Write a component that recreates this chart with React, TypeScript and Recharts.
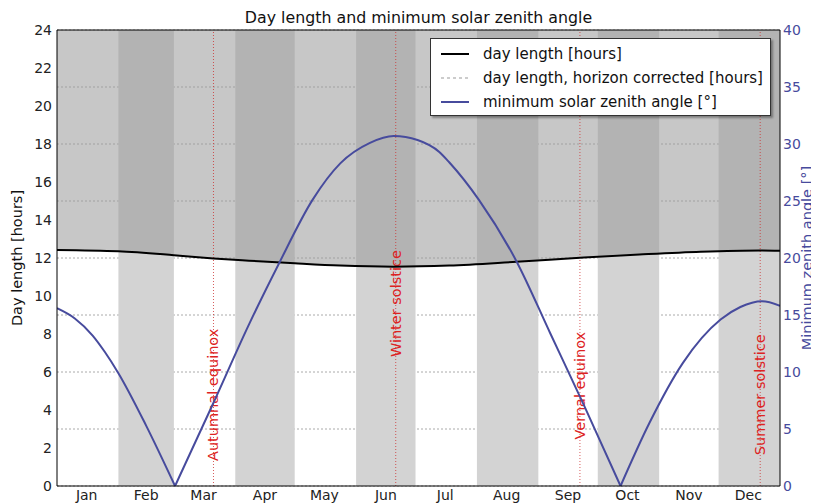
import {
  ComposedChart,
  Line,
  Area,
  XAxis,
  YAxis,
  CartesianGrid,
  ReferenceArea,
  ReferenceLine,
} from 'recharts';

// day of year (0 = 1 Jan) and day length in hours
const dayLengthDays = [0, 31, 59, 79, 97, 120, 143, 170, 198, 232, 266, 294, 325, 355, 365];
const dayLengthHours = [12.42, 12.35, 12.15, 11.98, 11.86, 11.72, 11.6, 11.54, 11.6, 11.8, 12.02, 12.18, 12.33, 12.4, 12.38];

// minimum solar zenith angle in degrees
const zenithDays = [0, 9, 18, 24, 31, 45, 59.6, 79, 97, 112, 129, 143, 158, 170, 182, 193, 198, 213, 232, 249, 266, 284.5, 299, 316, 335, 345, 356, 365];
const zenithDeg = [15.6, 14.7, 13.2, 11.8, 9.9, 5.3, 0, 7.3, 14.2, 19.5, 25.1, 28.3, 30.1, 30.7, 30.35, 29.3, 28.4, 25.1, 19.7, 13.4, 7.1, 0, 5.5, 10.8, 14.6, 15.7, 16.2, 15.8];

const monthStarts = [0, 31, 59, 90, 120, 151, 181, 212, 243, 273, 304, 334, 365];
const monthNames = ['Jan', 'Feb', 'Mar', 'Apr', 'May', 'Jun', 'Jul', 'Aug', 'Sep', 'Oct', 'Nov', 'Dec'];
const monthTicks = [15, 45, 74, 105, 135, 166, 196, 227, 258, 288, 319, 349];

const eventDays = [79, 171, 264, 355];
const eventNames = ['Autumnal equinox', 'Winter solstice', 'Vernal equinox', 'Summer solstice'];

const hourTicks = [0, 2, 4, 6, 8, 10, 12, 14, 16, 18, 20, 22, 24];
const angleTicks = [0, 5, 10, 15, 20, 25, 30, 35, 40];

const dayData = dayLengthDays.map((d, i) => ({ day: d, hours: dayLengthHours[i] }));
const zenithData = zenithDays.map((d, i) => ({ day: d, angle: zenithDeg[i] }));

// split the zenith curve at its zero points so the cusps stay sharp
const zeroIdx = zenithDeg.map((v, i) => (v === 0 ? i : -1)).filter((i) => i >= 0);
const cuts = [0, ...zeroIdx, zenithData.length - 1];
const zenithSegments = cuts.slice(0, -1).map((c, k) => zenithData.slice(c, cuts[k + 1] + 1));

const FONT = '"DejaVu Sans", sans-serif';
const BLUE = '#474b9d';
// where the rotated event labels sit, as a fraction of plot height
const labelCenters = [0.8, 0.6, 0.78, 0.8];

export default function App() {
  return (
    <div style={{ position: 'relative', width: 819, height: 504, margin: '-8px 0 0 -8px', fontFamily: FONT, background: '#fff' }}>
      <div style={{ position: 'absolute', left: 57, width: 723, top: 9, textAlign: 'center', fontSize: 15.8, lineHeight: '18px', color: '#111' }}>
        Day length and minimum solar zenith angle
      </div>
      <ComposedChart width={819} height={504} margin={{ top: 30, right: 0, bottom: 0, left: 0 }}>
        {monthStarts.slice(0, 12).map((s, i) =>
          i % 2 === 1 ? (
            <ReferenceArea
              key={s}
              yAxisId="left"
              x1={s}
              x2={monthStarts[i + 1]}
              y1={0}
              y2={24}
              fill="#d3d3d3"
              fillOpacity={1}
              stroke="none"
            />
          ) : null
        )}
        <Area
          yAxisId="left"
          data={dayData}
          dataKey={(d: any) => [d.hours, 24]}
          type="monotone"
          stroke="none"
          fill="#999"
          fillOpacity={0.55}
          isAnimationActive={false}
          legendType="none"
        />
        <CartesianGrid yAxisId="right" vertical={false} stroke="#888" strokeDasharray="2 2" strokeOpacity={0.7} />
        <XAxis
          dataKey="day"
          type="number"
          domain={[0, 365]}
          ticks={monthTicks}
          tickFormatter={(v: number) => monthNames[monthTicks.indexOf(v)]}
          height={18}
          tickLine={false}
          tickSize={0}
          tickMargin={4}
          axisLine={{ stroke: '#000' }}
          tick={{ fontSize: 14, fill: '#222', fontFamily: FONT }}
          allowDataOverflow
        />
        <YAxis
          yAxisId="left"
          domain={[0, 24]}
          ticks={hourTicks}
          width={57}
          tickLine={false}
          tickSize={0}
          tickMargin={5}
          axisLine={{ stroke: '#000' }}
          tick={{ fontSize: 14, fill: '#222', fontFamily: FONT }}
          label={{
            content: ({ viewBox }: any) => {
              const cx = viewBox.x + 17;
              const cy = viewBox.y + viewBox.height / 2;
              return (
                <text x={cx} y={cy} transform={`rotate(-90, ${cx}, ${cy})`} textAnchor="middle" dominantBaseline="central" fontSize={14.5} fill="#111" fontFamily={FONT}>
                  Day length [hours]
                </text>
              );
            },
          }}
        />
        <YAxis
          yAxisId="right"
          orientation="right"
          domain={[0, 40]}
          ticks={angleTicks}
          width={39}
          tickLine={false}
          tickSize={0}
          tickMargin={3}
          axisLine={{ stroke: '#000' }}
          tick={{ fontSize: 14, fill: BLUE, fontFamily: FONT }}
          label={{
            content: ({ viewBox }: any) => {
              const cx = viewBox.x + 27;
              const cy = viewBox.y + viewBox.height / 2;
              return (
                <text x={cx} y={cy} transform={`rotate(-90, ${cx}, ${cy})`} textAnchor="middle" dominantBaseline="central" fontSize={14.5} fill={BLUE} fontFamily={FONT}>
                  Minimum zenith angle [°]
                </text>
              );
            },
          }}
        />
        <ReferenceLine yAxisId="left" y={24} stroke="#000" />
        {eventDays.map((d, i) => (
          <ReferenceLine
            key={d}
            yAxisId="left"
            x={d}
            stroke="#c33"
            strokeDasharray="1 2"
            strokeOpacity={0.8}
            label={{
              content: ({ viewBox }: any) => {
                const cx = viewBox.x;
                const cy = viewBox.y + viewBox.height * labelCenters[i];
                return (
                  <text x={cx} y={cy} transform={`rotate(-90, ${cx}, ${cy})`} textAnchor="middle" dominantBaseline="central" fontSize={14.5} fill="#d22" fontFamily={FONT}>
                    {eventNames[i]}
                  </text>
                );
              },
            }}
          />
        ))}
        <Line
          yAxisId="left"
          data={dayData}
          dataKey="hours"
          type="monotone"
          stroke="#000"
          strokeWidth={2}
          dot={false}
          isAnimationActive={false}
        />
        {zenithSegments.map((seg, k) => (
          <Line
            key={k}
            yAxisId="right"
            data={seg}
            dataKey="angle"
            type="monotone"
            stroke={BLUE}
            strokeWidth={2}
            dot={false}
            isAnimationActive={false}
          />
        ))}
      </ComposedChart>
      <div
        style={{
          position: 'absolute',
          left: 430,
          top: 38,
          width: 341,
          height: 78,
          boxSizing: 'border-box',
          background: '#fff',
          border: '1px solid #333',
          boxShadow: '2px 2px 2px rgba(0,0,0,0.35)',
          fontSize: 15,
          color: '#111',
          padding: '3px 0 0 10px',
        }}
      >
        {[
          { label: 'day length [hours]', color: '#000', dash: undefined, w: 2 },
          { label: 'day length, horizon corrected [hours]', color: '#999', dash: '3 3', w: 1 },
          { label: 'minimum solar zenith angle [°]', color: BLUE, dash: undefined, w: 2 },
        ].map((e) => (
          <div key={e.label} style={{ display: 'flex', alignItems: 'center', height: 24 }}>
            <svg width={32} height={10} style={{ marginRight: 10 }}>
              <line x1={0} y1={5} x2={28} y2={5} stroke={e.color} strokeWidth={e.w} strokeDasharray={e.dash} />
            </svg>
            <span>{e.label}</span>
          </div>
        ))}
      </div>
    </div>
  );
}
